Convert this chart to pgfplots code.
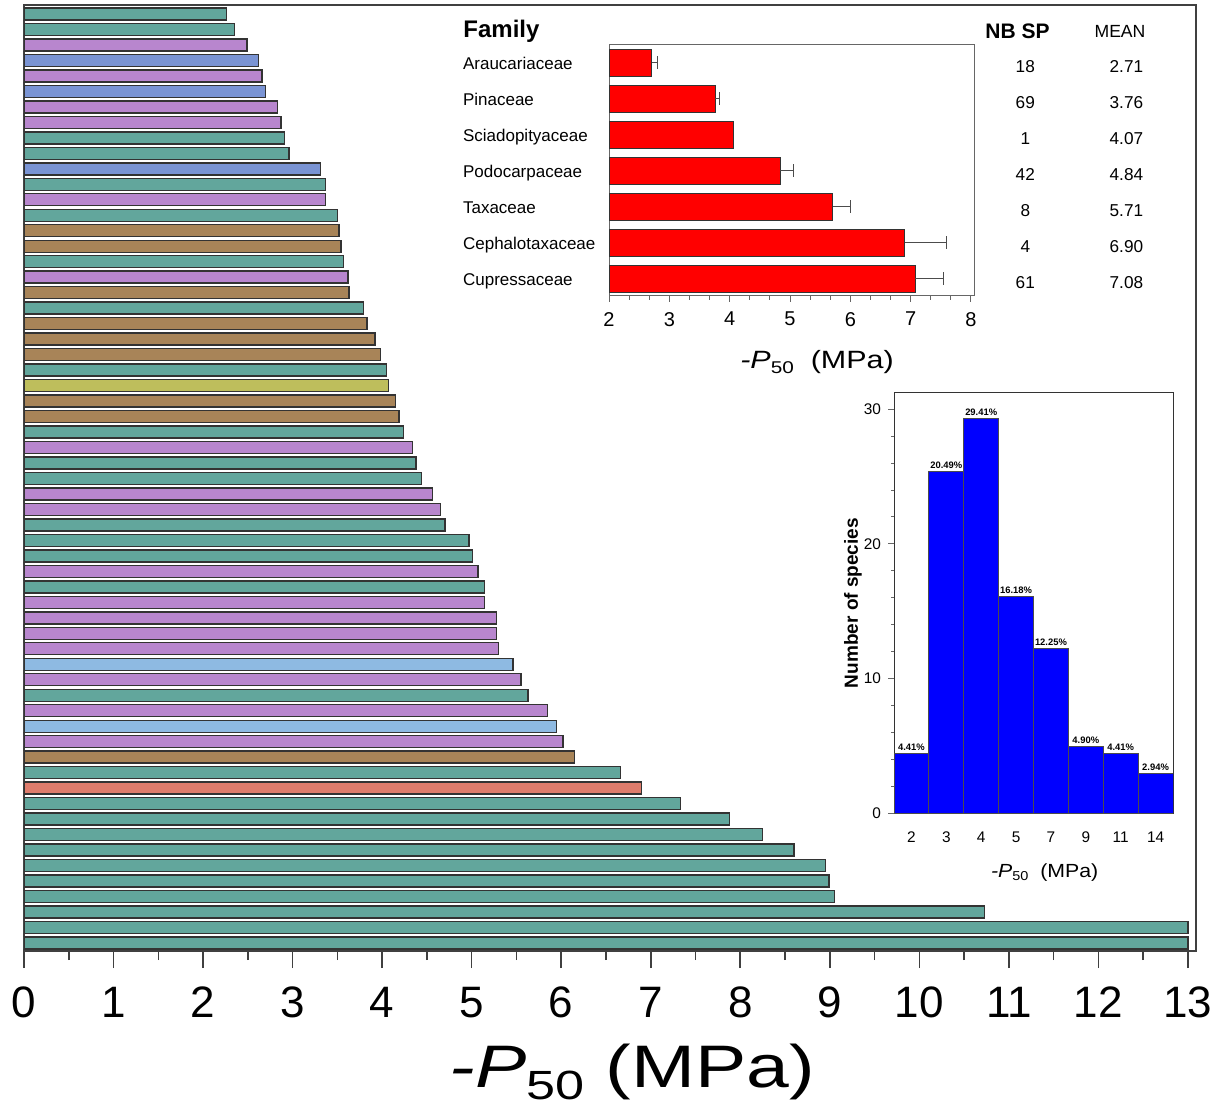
\documentclass[border=0pt]{standalone}
\usepackage{fontspec}
\setmainfont{Liberation Sans}
\usepackage{graphicx}
\usepackage{pgfplots}
\pgfplotsset{compat=1.18}
\definecolor{cteal}{RGB}{98,166,156}
\definecolor{cpurple}{RGB}{184,134,206}
\definecolor{cblue}{RGB}{122,148,212}
\definecolor{cbrown}{RGB}{168,132,88}
\definecolor{colive}{RGB}{190,190,92}
\definecolor{clblue}{RGB}{142,186,226}
\definecolor{csalmon}{RGB}{222,124,108}
\newcommand{\pfifty}{\textit{-P}\raisebox{-0.2em}{\scalebox{0.68}{50}}}
\begin{document}
\begin{tikzpicture}
\useasboundingbox (0,0) rectangle (609pt,554.5pt);
% ---------------- main chart ----------------
\begin{axis}[
  at={(12pt,79pt)}, anchor=south west,
  width=586pt, height=473pt, scale only axis,
  xbar, bar shift=0pt, bar width=6pt,
  xmin=0, xmax=13.09, ymin=0.42, ymax=61.52, y dir=reverse,
  ytick=\empty,
  xtick={0,...,13}, minor x tick num=1,
  xtick pos=bottom, tick align=outside,
  major tick length=8.5pt, minor tick length=4.5pt,
  axis line style={black!75, line width=0.8pt},
  every tick/.style={black!75, line width=0.8pt},
  /pgf/number format/assume math mode=true,
  xticklabel style={font=\fontsize{22}{22}\selectfont, yshift=-6pt},
  xlabel={\scalebox{1.28}[1]{\pfifty\ (MPa)}},
  xlabel style={font=\fontsize{30}{30}\selectfont, anchor=base, at={(axis description cs:0.519,0)}, yshift=-68pt},
  every axis plot/.append style={draw=black!80, line width=0.7pt},
]
\addplot[fill=cteal] coordinates {(2.26,1) (2.35,2) (2.91,9) (2.96,10) (3.37,12) (3.50,14) (3.57,17) (3.79,20) (4.05,24) (4.24,28) (4.38,30) (4.44,31) (4.70,34) (4.97,35) (5.01,36) (5.14,38) (5.63,45) (6.66,50) (7.33,52) (7.88,53) (8.25,54) (8.60,55) (8.95,56) (8.99,57) (9.05,58) (10.73,59) (13.0,60) (13.0,61)};
\addplot[fill=cpurple] coordinates {(2.49,3) (2.66,5) (2.83,7) (2.87,8) (3.37,13) (3.62,18) (4.34,29) (4.56,32) (4.65,33) (5.07,37) (5.14,39) (5.28,40) (5.28,41) (5.30,42) (5.55,44) (5.85,46) (6.02,48)};
\addplot[fill=cblue] coordinates {(2.62,4) (2.70,6) (3.31,11)};
\addplot[fill=cbrown] coordinates {(3.52,15) (3.54,16) (3.63,19) (3.83,21) (3.92,22) (3.98,23) (4.15,26) (4.19,27) (6.15,49)};
\addplot[fill=colive] coordinates {(4.07,25)};
\addplot[fill=clblue] coordinates {(5.46,43) (5.95,47)};
\addplot[fill=csalmon] coordinates {(6.90,51)};
\end{axis}
% ---------------- family inset ----------------
\begin{axis}[
  at={(304.5pt,406.5pt)}, anchor=south west,
  width=182.5pt, height=126pt, scale only axis,
  xbar, bar shift=0pt, bar width=13.5pt,
  xmin=2, xmax=8.05, ymin=0.48, ymax=7.48, y dir=reverse,
  clip mode=individual,
  xtick={2,...,8}, minor x tick num=2, xtick pos=bottom, tick align=outside,
  major tick length=3pt, minor tick length=2pt,
  axis line style={black!60, line width=0.5pt},
  x tick style={black!60, line width=0.5pt},
  ytick={1,...,7},
  yticklabels={Araucariaceae,Pinaceae,Sciadopityaceae,Podocarpaceae,Taxaceae,Cephalotaxaceae,Cupressaceae},
  y tick style={draw=none},
  yticklabel style={anchor=west, xshift=-73.5pt, font=\fontsize{8.5}{9}\selectfont, text height=1.6ex, text depth=0.3ex},
  /pgf/number format/assume math mode=true,
  xticklabel style={font=\fontsize{10}{10}\selectfont, yshift=-1.5pt},
  xlabel={\scalebox{1.22}[1]{\pfifty\ \ (MPa)}},
  xlabel style={font=\fontsize{12.5}{13}\selectfont, anchor=base, at={(axis description cs:0.57,0)}, yshift=-36pt},
]
\addplot[fill=red, draw=black!80, line width=0.5pt,
  error bars/.cd, x dir=plus, x explicit, error mark=|,
  error bar style={black!70, line width=0.5pt},
  error mark options={black!70, line width=0.5pt, mark size=3.3pt}]
  coordinates {(2.71,1) +- (0.10,0) (3.76,2) +- (0.07,0) (4.84,4) +- (0.21,0) (5.71,5) +- (0.30,0) (6.90,6) +- (0.70,0) (7.08,7) +- (0.47,0)};
\addplot[fill=red, draw=black!80, line width=0.5pt] coordinates {(4.07,3)};
\node[anchor=west, inner sep=0pt, font=\bfseries\fontsize{12}{12}\selectfont] at (axis cs:-0.42,0.12) {Family};
\node[font=\bfseries\fontsize{10.5}{11}\selectfont] at (axis cs:8.77,0.12) {NB SP};
\node[font=\fontsize{8.8}{9}\selectfont] at (axis cs:10.47,0.14) {MEAN};
\node[font=\fontsize{8.6}{9}\selectfont] at (axis cs:8.9,1.11) {18};
\node[font=\fontsize{8.6}{9}\selectfont] at (axis cs:8.9,2.11) {69};
\node[font=\fontsize{8.6}{9}\selectfont] at (axis cs:8.9,3.11) {1};
\node[font=\fontsize{8.6}{9}\selectfont] at (axis cs:8.9,4.11) {42};
\node[font=\fontsize{8.6}{9}\selectfont] at (axis cs:8.9,5.11) {8};
\node[font=\fontsize{8.6}{9}\selectfont] at (axis cs:8.9,6.11) {4};
\node[font=\fontsize{8.6}{9}\selectfont] at (axis cs:8.9,7.11) {61};
\node[anchor=east, inner sep=0pt, font=\fontsize{8.6}{9}\selectfont] at (axis cs:10.86,1.11) {2.71};
\node[anchor=east, inner sep=0pt, font=\fontsize{8.6}{9}\selectfont] at (axis cs:10.86,2.11) {3.76};
\node[anchor=east, inner sep=0pt, font=\fontsize{8.6}{9}\selectfont] at (axis cs:10.86,3.11) {4.07};
\node[anchor=east, inner sep=0pt, font=\fontsize{8.6}{9}\selectfont] at (axis cs:10.86,4.11) {4.84};
\node[anchor=east, inner sep=0pt, font=\fontsize{8.6}{9}\selectfont] at (axis cs:10.86,5.11) {5.71};
\node[anchor=east, inner sep=0pt, font=\fontsize{8.6}{9}\selectfont] at (axis cs:10.86,6.11) {6.90};
\node[anchor=east, inner sep=0pt, font=\fontsize{8.6}{9}\selectfont] at (axis cs:10.86,7.11) {7.08};
\end{axis}
% ---------------- histogram inset ----------------
\begin{axis}[
  at={(447pt,148pt)}, anchor=south west,
  width=139.5pt, height=210pt, scale only axis,
  ybar, bar shift=0pt, bar width=17.44pt,
  xmin=0.5, xmax=8.5, ymin=0, ymax=31.2,
  xtick={1,...,8}, xticklabels={2,3,4,5,7,9,11,14},
  x tick style={draw=none},
  ytick={0,10,20,30}, minor y tick num=4, ytick pos=left, tick align=outside,
  major tick length=3pt, minor tick length=1.5pt,
  axis line style={black!80, line width=0.5pt},
  y tick style={black!60, line width=0.4pt},
  ticklabel style={font=\fontsize{7.7}{8}\selectfont},
  xticklabel style={yshift=-3pt},
  /pgf/number format/assume math mode=true,
  ylabel={Number of species},
  ylabel style={font=\bfseries\fontsize{9.5}{10}\selectfont, at={(axis description cs:0,0.5)}, anchor=center, yshift=20.5pt},
  xlabel={\scalebox{1.12}[1]{\pfifty\ \ (MPa)}},
  xlabel style={font=\fontsize{9.5}{10}\selectfont, anchor=base, at={(axis description cs:0.54,0)}, yshift=-32pt},
  nodes near coords, point meta=explicit symbolic,
  nodes near coords style={font=\bfseries\fontsize{4.7}{5}\selectfont, inner sep=1.2pt, black},
]
\addplot[fill=blue, draw=black!70, line width=0.4pt] coordinates {(1,4.45) [4.41\%] (2,25.4) [20.49\%] (3,29.3) [29.41\%] (4,16.1) [16.18\%] (5,12.2) [12.25\%] (6,4.95) [4.90\%] (7,4.45) [4.41\%] (8,2.95) [2.94\%]};
\end{axis}
\end{tikzpicture}
\end{document}
